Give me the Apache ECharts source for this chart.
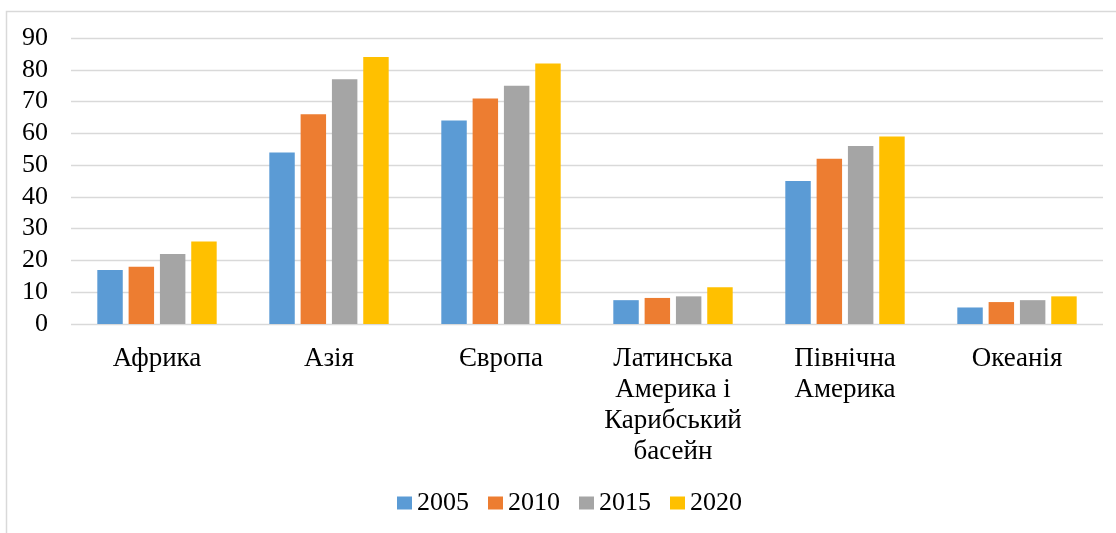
<!DOCTYPE html>
<html>
<head>
  <meta charset="utf-8">
  <title>chart</title>
  <script src="https://cdn.jsdelivr.net/npm/echarts@6/dist/echarts.min.js"></script>
  <style>
    body { margin: 0; padding: 0; background: #fff; }
    #main { width: 1116px; height: 533px; }
  </style>
</head>
<body>
<div id="main"></div>
<script>
  // регіони та роки
  var regions = ['Африка', 'Азія', 'Європа', 'Латинська\nАмерика і\nКарибський\nбасейн', 'Північна\nАмерика', 'Океанія'];
  var years = ['2005', '2010', '2015', '2020'];
  var colors = ['#5B9BD5', '#ED7D31', '#A5A5A5', '#FFC000'];
  var v2005 = [17, 54, 64, 7.5, 45, 5.2];
  var v2010 = [18, 66, 71, 8.2, 52, 6.9];
  var v2015 = [22, 77, 75, 8.7, 56, 7.5];
  var v2020 = [26, 84, 82, 11.6, 59, 8.7];
  var yTicks = [0, 10, 20, 30, 40, 50, 60, 70, 80, 90];

  var values = [v2005, v2010, v2015, v2020];
  var font = '"Liberation Serif", "Times New Roman", serif';

  var myChart = echarts.init(document.getElementById('main'));
  var option = {
    animation: false,
    color: colors,
    graphic: [{
      type: 'polyline',
      shape: { points: [[6.5, 540], [6.5, 11.5], [1116, 11.5]] },
      style: { stroke: '#d9d9d9', lineWidth: 1.5, fill: null },
      silent: true
    }],
    grid: { left: 71, right: 13, top: 38, bottom: 209 },
    legend: {
      data: years,
      top: 485,
      left: 392,
      itemWidth: 15,
      itemHeight: 13,
      itemGap: 19,
      icon: 'rect',
      textStyle: { fontFamily: font, fontSize: 26, color: '#000' }
    },
    xAxis: {
      type: 'category',
      data: regions,
      axisLine: { show: false },
      axisTick: { show: false },
      axisLabel: {
        fontFamily: font, fontSize: 27, color: '#000',
        lineHeight: 31, margin: 19, interval: 0
      }
    },
    yAxis: {
      type: 'value',
      min: yTicks[0],
      max: yTicks[yTicks.length - 1],
      interval: 10,
      axisLine: { show: false },
      axisTick: { show: false },
      axisLabel: { fontFamily: font, fontSize: 26, color: '#000', margin: 23 },
      splitLine: { lineStyle: { color: '#d9d9d9', width: 1.3 } }
    },
    series: years.map(function (y, i) {
      return {
        name: y,
        type: 'bar',
        data: values[i],
        barWidth: '14.8%',
        barGap: '23%',
        itemStyle: { color: colors[i] }
      };
    })
  };
  myChart.setOption(option);
</script>
</body>
</html>
